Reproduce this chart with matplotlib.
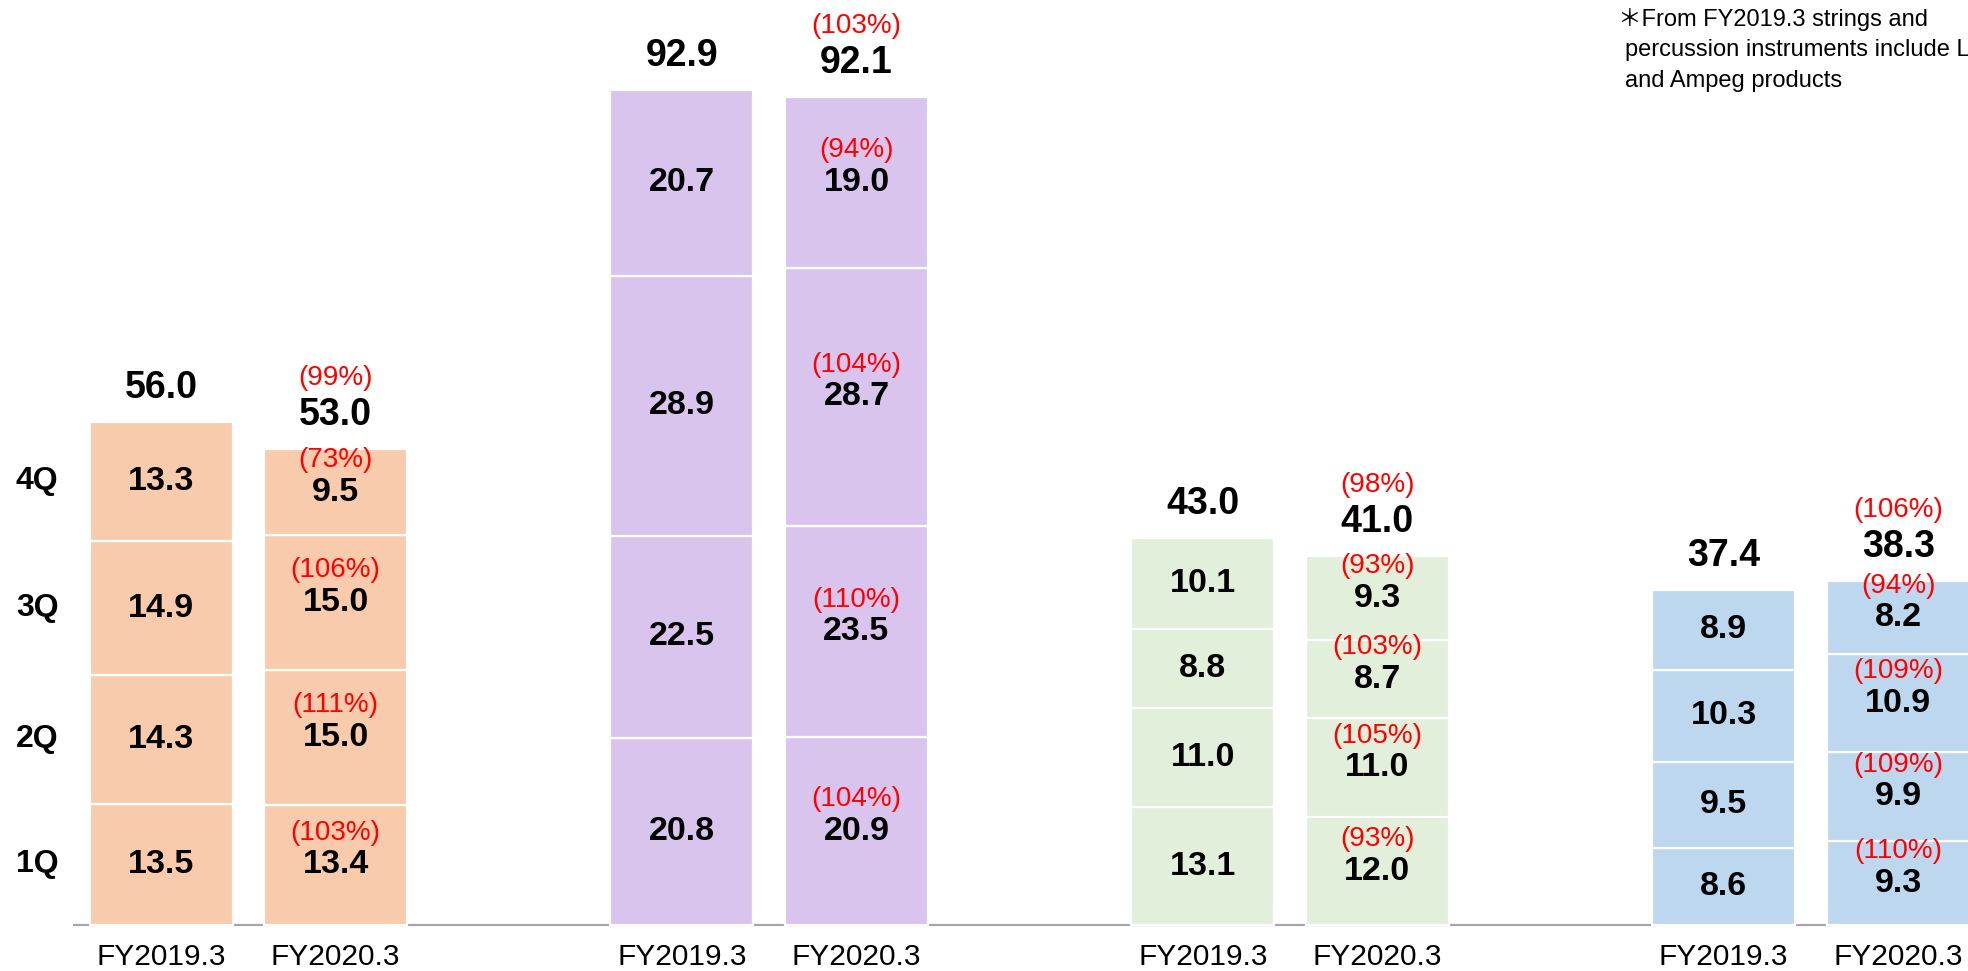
import matplotlib
matplotlib.use("Agg")
import matplotlib.pyplot as plt
import numpy as np

plt.rcParams['font.family'] = ['Liberation Sans', 'DejaVu Sans']

# ---------------- data ----------------
categories = ["FY2019.3", "FY2020.3"]
quarters = ["1Q", "2Q", "3Q", "4Q"]
group_colors = ["#F8CBAD", "#D9C4EE", "#E2EFDA", "#BDD7EE"]

q_2019 = [
    [13.5, 20.8, 13.1, 8.6],   # 1Q
    [14.3, 22.5, 11.0, 9.5],   # 2Q
    [14.9, 28.9, 8.8, 10.3],   # 3Q
    [13.3, 20.7, 10.1, 8.9],   # 4Q
]
total_2019 = [56.0, 92.9, 43.0, 37.4]

q_2020 = [
    [13.4, 20.9, 12.0, 9.3],
    [15.0, 23.5, 11.0, 9.9],
    [15.0, 28.7, 8.7, 10.9],
    [9.5, 19.0, 9.3, 8.2],
]
total_2020 = [53.0, 92.1, 41.0, 38.3]

pct_2020 = [
    [103, 104, 93, 110],
    [111, 110, 105, 109],
    [106, 104, 103, 109],
    [73, 94, 93, 94],
]
pct_total_2020 = [99, 103, 98, 106]

footnote = ["\uff0aFrom FY2019.3 strings and",
            "percussion instruments include Line 6",
            "and Ampeg products"]

# ---------------- layout ----------------
W, H = 1968, 971
fig = plt.figure(figsize=(W / 100, H / 100), dpi=100)
ax = fig.add_axes([0, 0, 1, 1])
ax.set_xlim(-0.923, 10.355)
ax.set_ylim(-5.117, 102.9)
ax.axis("off")

group_step = 2.985
bar_w = 0.82
red = "#FF0000"
val_fs = 24.5
tot_fs = 27
pct_fs = 20

ax.plot([-0.504, 10.4], [0, 0], color="#A6A6A6", lw=1.6, zorder=1, solid_capstyle="butt")

for g in range(4):
    x0 = g * group_step
    x1 = x0 + 1
    # FY2019.3
    bottom = 0.0
    for qi in range(4):
        v = q_2019[qi][g]
        ax.bar(x0, v, bottom=bottom, width=bar_w, color=group_colors[g],
               edgecolor="white", linewidth=1.6, zorder=2)
        ax.text(x0, bottom + v / 2, f"{v:.1f}", ha="center", va="center",
                fontsize=val_fs, fontweight="bold", color="black", zorder=3)
        if g == 0:
            ax.text(-0.71, bottom + v / 2, quarters[qi], ha="center", va="center",
                    fontsize=23, fontweight="bold", color="black")
        bottom += v
    ax.annotate(f"{total_2019[g]:.1f}", (x0, bottom), xytext=(0, 34),
                textcoords="offset pixels", ha="center", va="center",
                fontsize=tot_fs, fontweight="bold", color="black")
    # FY2020.3
    bottom = 0.0
    for qi in range(4):
        v = q_2020[qi][g]
        ax.bar(x1, v, bottom=bottom, width=bar_w, color=group_colors[g],
               edgecolor="white", linewidth=1.6, zorder=2)
        ax.text(x1, bottom + v / 2, f"{v:.1f}", ha="center", va="center",
                fontsize=val_fs, fontweight="bold", color="black", zorder=3)
        ax.annotate(f"({pct_2020[qi][g]}%)", (x1, bottom + v / 2), xytext=(0, 32),
                    textcoords="offset pixels", ha="center", va="center",
                    fontsize=pct_fs, color=red, zorder=3)
        bottom += v
    ax.annotate(f"{total_2020[g]:.1f}", (x1, bottom), xytext=(0, 34),
                textcoords="offset pixels", ha="center", va="center",
                fontsize=tot_fs, fontweight="bold", color="black")
    ax.annotate(f"({pct_total_2020[g]}%)", (x1, bottom), xytext=(0, 71),
                textcoords="offset pixels", ha="center", va="center",
                fontsize=pct_fs, color=red)
    # category labels
    for xi, cat in zip([x0, x1], categories):
        ax.text(xi, -3.56, cat, ha="center", va="center", fontsize=21.5, color="black")

# footnote (top right, clipped by the figure edge as in the original)
fn_fs = 17
fig.text(1618 / W, 1 - 19 / H, footnote[0], ha="left", va="center", fontsize=fn_fs,
         family=["Liberation Sans", "Noto Sans CJK JP", "DejaVu Sans"])
fig.text(1625 / W, 1 - 50 / H, footnote[1], ha="left", va="center", fontsize=fn_fs)
fig.text(1625 / W, 1 - 81 / H, footnote[2], ha="left", va="center", fontsize=fn_fs)

fig.savefig("out.png", dpi=100)
